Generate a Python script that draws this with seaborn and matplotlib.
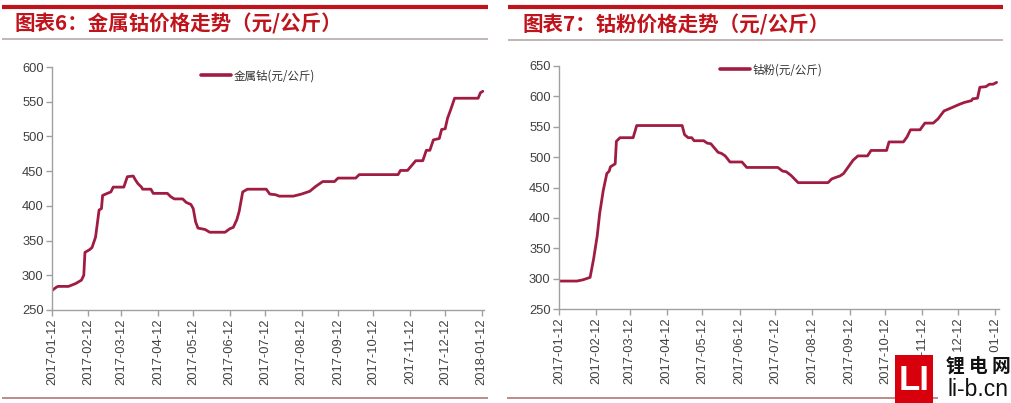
import matplotlib
matplotlib.use("Agg")
import matplotlib.pyplot as plt
import matplotlib.dates as mdates
from matplotlib.lines import Line2D
from matplotlib.patches import Rectangle
import seaborn as sns
import pandas as pd

# ---------------- data ----------------
metal_dates = ["2017-01-12", "2017-01-15", "2017-01-17", "2017-01-26", "2017-02-01", "2017-02-06",
               "2017-02-08", "2017-02-09", "2017-02-13", "2017-02-15", "2017-02-18", "2017-02-21",
               "2017-02-23", "2017-02-24", "2017-02-28", "2017-03-03", "2017-03-05", "2017-03-14",
               "2017-03-17", "2017-03-22", "2017-03-24", "2017-03-26", "2017-03-29", "2017-03-30",
               "2017-04-06", "2017-04-08", "2017-04-20", "2017-04-23", "2017-04-26", "2017-05-03",
               "2017-05-06", "2017-05-10", "2017-05-12", "2017-05-14", "2017-05-16", "2017-05-22",
               "2017-05-26", "2017-06-08", "2017-06-12", "2017-06-15", "2017-06-18", "2017-06-20",
               "2017-06-23", "2017-06-27", "2017-07-13", "2017-07-16", "2017-07-21", "2017-07-24",
               "2017-08-05", "2017-08-12", "2017-08-19", "2017-08-24", "2017-08-30", "2017-09-09",
               "2017-09-12", "2017-09-27", "2017-09-30", "2017-11-02", "2017-11-04", "2017-11-10",
               "2017-11-14", "2017-11-17", "2017-11-23", "2017-11-26", "2017-11-29", "2017-12-02",
               "2017-12-07", "2017-12-09", "2017-12-12", "2017-12-14", "2017-12-17", "2017-12-20",
               "2018-01-09", "2018-01-11", "2018-01-13"]
metal_values = [278, 282, 284, 284, 288, 293,
                300, 333, 337, 340, 355, 394,
                396, 415, 418, 420, 427, 427,
                442, 443, 437, 432, 427, 424,
                424, 418, 418, 413, 410, 410,
                405, 402, 396, 377, 368, 366,
                362, 362, 367, 369, 380, 392,
                420, 424, 424, 417, 416, 414,
                414, 417, 421, 428, 435, 435,
                440, 440, 445, 445, 451, 451,
                459, 465, 465, 480, 480, 495,
                497, 510, 511, 526, 540, 555,
                555, 563, 565]

powder_dates = ["2017-01-12", "2017-01-27", "2017-02-01", "2017-02-07", "2017-02-10", "2017-02-13",
                "2017-02-15", "2017-02-18", "2017-02-21", "2017-02-23", "2017-02-24", "2017-02-28",
                "2017-03-01", "2017-03-04", "2017-03-15", "2017-03-18", "2017-04-25", "2017-04-27",
                "2017-04-30", "2017-05-03", "2017-05-05", "2017-05-13", "2017-05-16", "2017-05-19",
                "2017-05-22", "2017-05-25", "2017-05-28", "2017-05-31", "2017-06-04", "2017-06-14",
                "2017-06-18", "2017-07-14", "2017-07-18", "2017-07-21", "2017-07-25", "2017-07-31",
                "2017-08-25", "2017-08-28", "2017-09-01", "2017-09-04", "2017-09-07", "2017-09-11",
                "2017-09-15", "2017-09-19", "2017-09-27", "2017-09-30", "2017-10-13", "2017-10-15",
                "2017-10-27", "2017-10-30", "2017-11-02", "2017-11-10", "2017-11-14", "2017-11-21",
                "2017-11-25", "2017-11-30", "2017-12-06", "2017-12-13", "2017-12-17", "2017-12-23",
                "2017-12-24", "2017-12-28", "2017-12-30", "2018-01-04", "2018-01-07", "2018-01-10",
                "2018-01-13"]
powder_values = [296, 296, 298, 302, 333, 371,
                 407, 445, 473, 477, 484, 489,
                 526, 532, 532, 552, 552, 537,
                 532, 532, 527, 527, 523, 522,
                 515, 508, 506, 502, 492, 492,
                 483, 483, 477, 476, 470, 458,
                 458, 464, 467, 469, 473, 484,
                 495, 502, 502, 511, 511, 525,
                 525, 533, 545, 545, 556, 556,
                 563, 576, 581, 587, 590, 593,
                 596, 597, 615, 616, 620, 620,
                 623]

tick_dates = ["2017-01-12", "2017-02-12", "2017-03-12", "2017-04-12", "2017-05-12", "2017-06-12",
              "2017-07-12", "2017-08-12", "2017-09-12", "2017-10-12", "2017-11-12", "2017-12-12",
              "2018-01-12"]

metal_label = "金属钴(元/公斤)"
powder_label = "钴粉(元/公斤)"
title_left = "图表6：金属钴价格走势（元/公斤）"
title_right = "图表7：钴粉价格走势（元/公斤）"

# ---------------- style ----------------
sns.set_theme(style="white")
plt.rcParams['font.family'] = ['Liberation Sans', 'Noto Sans CJK SC', 'DejaVu Sans']
CJK = ['Noto Sans CJK SC', 'DejaVu Sans']

LINE = "#A01C42"
RED = "#C0141C"
AXC = "#A0A0A0"
TXT = "#404040"

W, H = 1011, 403
fig = plt.figure(figsize=(W / 100, H / 100), dpi=100)
fig.patch.set_facecolor("white")

df_m = pd.DataFrame({"date": pd.to_datetime(metal_dates), "value": metal_values})
df_p = pd.DataFrame({"date": pd.to_datetime(powder_dates), "value": powder_values})
ticks = pd.to_datetime(tick_dates)


def px_axes(x0, x1, y_top, y_bot):
    return [x0 / W, 1 - y_bot / H, (x1 - x0) / W, (y_bot - y_top) / H]


ax1 = fig.add_axes(px_axes(52, 484, 67, 310))
ax2 = fig.add_axes(px_axes(559, 999, 66, 309))


def style_axis(ax, df, label, ylim, yticks, xend, leg_anchor):
    sns.lineplot(data=df, x="date", y="value", ax=ax, color=LINE, linewidth=2.0,
                 label=label, estimator=None)
    ax.set_ylim(*ylim)
    ax.set_yticks(yticks)
    ax.set_xlim(pd.Timestamp("2017-01-12"), pd.Timestamp(xend))
    ax.set_xticks(ticks)
    ax.xaxis.set_major_formatter(mdates.DateFormatter("%Y-%m-%d"))
    ax.set_xlabel("")
    ax.set_ylabel("")
    for s in ["top", "right"]:
        ax.spines[s].set_visible(False)
    for s in ["left", "bottom"]:
        ax.spines[s].set_color(AXC)
        ax.spines[s].set_linewidth(1.0)
    ax.tick_params(axis="both", which="major", direction="out", length=4, width=1,
                   color=AXC, labelcolor=TXT, labelsize=9.3, left=True, bottom=True, pad=2)
    for lab in ax.get_xticklabels():
        lab.set_rotation(90)
    leg = ax.legend(loc="upper left", bbox_to_anchor=leg_anchor, frameon=False,
                    handlelength=2.6, handletextpad=0.2, borderaxespad=0,
                    prop={"family": CJK, "size": 8.3})
    for h in leg.get_lines():
        h.set_linewidth(2.6)
    for t in leg.get_texts():
        t.set_color("#333333")


style_axis(ax1, df_m, metal_label, (250, 600), range(250, 601, 50), "2018-01-14", (0.335, 1.01))
style_axis(ax2, df_p, powder_label, (250, 650), range(250, 651, 50), "2018-01-15", (0.355, 1.03))

# ---------------- decorations ----------------
def hline(x0, x1, y, color, lw):
    fig.add_artist(Line2D([x0 / W, x1 / W], [1 - y / H, 1 - y / H], color=color,
                          linewidth=lw, transform=fig.transFigure, solid_capstyle="butt"))


hline(2, 488, 6.5, RED, 3.0)
hline(508, 1003, 6.5, RED, 3.0)
hline(2, 488, 39, "#B8A8A8", 1.2)
hline(508, 1003, 40, "#B8A8A8", 1.2)
hline(2, 488, 398, "#B07878", 1.2)
hline(507, 1003, 398, "#B07878", 1.2)

fig.text(15 / W, 1 - 24 / H, title_left, color="#C0141C", fontsize=14.8, fontweight="bold",
         family=CJK, va="center", ha="left")
fig.text(522 / W, 1 - 25 / H, title_right, color="#C0141C", fontsize=14.8, fontweight="bold",
         family=CJK, va="center", ha="left")

# watermark (opaque, drawn on top of the tick labels as in the source image)
fig.add_artist(Rectangle((938 / W, 0), 73 / W, 50 / H, transform=fig.transFigure,
                         facecolor="white", edgecolor="none", zorder=10))
fig.add_artist(Rectangle((895 / W, 0), 38 / W, 48 / H, transform=fig.transFigure,
                         facecolor="#D9000D", edgecolor="none", zorder=11))
fig.text(914 / W, 1 - 380 / H, "LI", color="white", fontsize=25, fontweight="bold",
         ha="center", va="center", family="Liberation Sans", zorder=12)
fig.text(978 / W, 1 - 366 / H, "锂 电 网", color="#111111", fontsize=13.5, fontweight="bold",
         ha="center", va="center", family=CJK, zorder=12)
fig.text(978 / W, 1 - 390 / H, "li-b.cn", color="#111111", fontsize=16.5,
         ha="center", va="center", family="Liberation Sans", zorder=12)

fig.savefig("out.png", dpi=100, facecolor="white")
